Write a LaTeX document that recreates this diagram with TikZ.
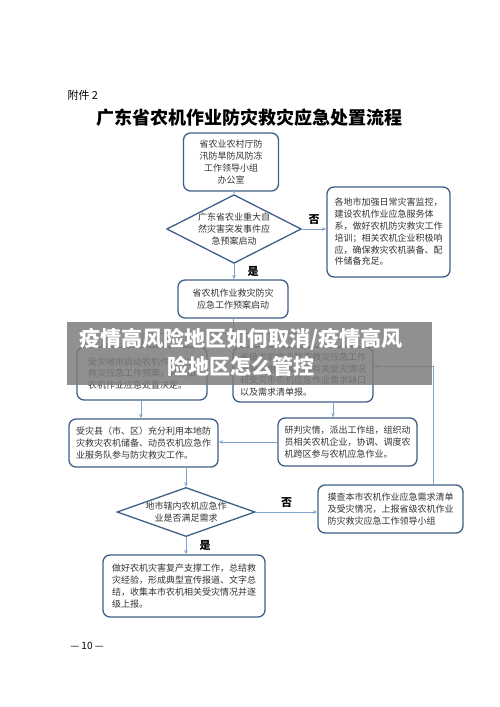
\documentclass[tikz,border=0pt]{standalone}
\usepackage{fontspec}
\setmainfont{Noto Sans CJK SC}
\usetikzlibrary{arrows.meta,shapes.geometric}
\definecolor{ink}{HTML}{333333}
\definecolor{frame}{HTML}{3F5F88}
\definecolor{link}{HTML}{7FA3CC}
\definecolor{veil}{HTML}{7C7C7C}
\tikzset{
  box/.style={draw=frame,line width=1.3pt,rounded corners=7pt,fill=white,inner sep=0pt,align=left,font=\fontsize{9}{11.8}\selectfont,text=ink},
  dia/.style={diamond,draw=frame,line width=1.3pt,fill=white,inner sep=0pt,align=center,font=\fontsize{9}{11.8}\selectfont,text=ink},
  ar/.style={-{Stealth[length=4.5pt,width=3.5pt]},draw=link,line width=.8pt},
  yn/.style={font=\fontsize{11}{11}\selectfont\bfseries,text=black},
  band/.style={font=\fontsize{21}{21}\selectfont\bfseries,text=white},
}

\begin{document}
\begin{tikzpicture}[x=1pt,y=-1pt]
  \useasboundingbox (0,0) rectangle (500,707);
  % ── heading ──
  \node[anchor=west,font=\fontsize{11}{11}\selectfont,text=black] (att) at (64,95) {附件 2};
  \node[font=\fontsize{18}{18}\selectfont\bfseries,text=black] (title) at (249,118) {广东省农机作业防灾救灾应急处置流程};
  % ── top part ──
  \node[box,align=center,minimum width=95,minimum height=58] (office) at (231,162) {省农业农村厅防\\汛防旱防风防冻\\工作领导小组\\办公室};
  \node[dia,aspect=1.96,minimum width=133,minimum height=68] (plan) at (234,229) {广东省农业重大自\\然灾害突发事件应\\急预案启动};
  \node[box,minimum width=123,minimum height=90] (daily) at (388.5,232) {各地市加强日常灾害监控，\\建设农机作业应急服务体\\系，做好农机防灾救灾工作\\培训；相关农机企业积极响\\应，确保救灾农机装备、配\\件储备充足。};
  \node[box,align=center,minimum width=110,minimum height=38] (start) at (233,299) {省农机作业救灾防灾\\应急工作预案启动};
  \draw[ar] (office.south -| plan.north) -- (plan.north);
  \draw[ar] (plan.east) -- node[yn,above=1pt] (no1) {否} (plan.east -| daily.west);
  \draw[ar] (plan.south) -- node[yn,right=10pt] (yes1) {是} (plan.south |- start.north);
  % ── middle part ──
  \node[box,minimum width=130,minimum height=53] (city) at (142,373.5) {受灾地市启动农机作业防灾\\救灾应急工作预案，并做出\\农机作业应急处置决定。};
  \node[box,minimum width=140,minimum height=55] (prov) at (303,374.5) {省级农机作业防灾救灾应急工作\\领导小组收集汇总有关受灾情况\\和受灾市农机应急作业需求缺口\\以及需求清单报。};
  \node[box,minimum width=149,minimum height=48] (county) at (143.5,443) {受灾县（市、区）充分利用本地防\\灾救灾农机储备、动员农机应急作\\业服务队参与防灾救灾工作。};
  \node[box,minimum width=139,minimum height=48] (judge) at (347.5,442) {研判灾情，派出工作组，组织动\\员相关农机企业，协调、调度农\\机跨区参与农机应急作业。};
  \coordinate (fork) at (233,333);
  \draw[link,line width=.8pt] (start.south) -- (fork);
  \draw[ar] (fork) -| (city.north);
  \draw[ar] (fork) -| (prov.north);
  \draw[ar] ([xshift=-1pt]city.south) -- ([xshift=-1pt]city.south |- county.north);
  \draw[ar] ([xshift=30pt]prov.south) -- ([xshift=30pt]prov.south |- judge.north);
  \draw[ar] (judge.west) -- (judge.west -| county.east);
  % ── lower part ──
  \node[dia,aspect=2.8,minimum width=138,minimum height=49] (enough) at (186,512) {地市辖内农机应急作\\业是否满足需求};
  \node[box,minimum width=145,minimum height=48] (survey) at (390.5,509) {摸查本市农机作业应急需求清单\\及受灾情况，上报省级农机作业\\防灾救灾应急工作领导小组};
  \node[box,minimum width=162,minimum height=62] (recover) at (184,586) {做好农机灾害复产支撑工作，总结救\\灾经验，形成典型宣传报道、文字总\\结，收集本市农机相关受灾情况并逐\\级上报。};
  \draw[ar] (county.south -| enough.north) -- (enough.north);
  \draw[ar] (enough.east) -- node[yn,above=1pt,pos=.5] (no2) {否} (enough.east -| survey.west);
  \draw[ar] (enough.south) -- node[yn,right=10pt] (yes2) {是} (enough.south |- recover.north);
  \coordinate (up) at (433,366);
  \draw[link,line width=.8pt] (survey.north -| up) -- (up);
  \draw[ar] (up) -- (up -| prov.east);
  % ── overlay band ──
  \fill[veil,opacity=.85] (67,322) rectangle (432,385);
  \node[band,anchor=west] (band1) at (76,339) {疫情高风险地区如何取消/疫情高风};
  \node[band] (band2) at (241,366) {险地区怎么管控};
  % ── page number ──
  \node[font=\fontsize{10}{10}\selectfont,text=black] (page) at (87,646) {— 10 —};
\end{tikzpicture}
\end{document}
